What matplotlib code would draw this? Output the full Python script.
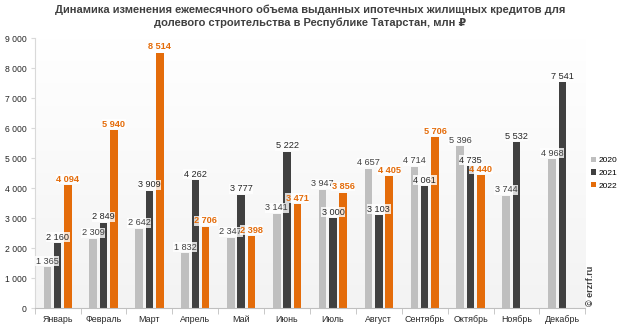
import numpy as np
import matplotlib.pyplot as plt
from matplotlib.colors import LinearSegmentedColormap

months = ["Январь", "Февраль", "Март", "Апрель", "Май", "Июнь", "Июль",
          "Август", "Сентябрь", "Октябрь", "Ноябрь", "Декабрь"]
y2020 = [1365, 2309, 2642, 1832, 2347, 3141, 3947, 4657, 4714, 5396, 3744, 4968]
y2021 = [2160, 2849, 3909, 4262, 3777, 5222, 3000, 3103, 4061, 4735, 5532, 7541]
y2022 = [4094, 5940, 8514, 2706, 2398, 3471, 3856, 4405, 5706, 4440]
years = ["2020", "2021", "2022"]
colors = ["#bfbfbf", "#404040", "#e46c0a"]
label_colors = ["#404040", "#262626", "#e46c0a"]

narrow = ['Liberation Sans Narrow', 'Liberation Sans', 'DejaVu Sans']
plt.rcParams['font.family'] = narrow

fig = plt.figure(figsize=(6.2, 3.25), dpi=100)
ax = fig.add_axes([0.056, 0.052, 0.888, 0.83])

# subtle background gradient
grad = np.linspace(0, 1, 256).reshape(-1, 1)
cmap = LinearSegmentedColormap.from_list("g", ["#f3f3f3", "#ffffff"])
ax.imshow(grad, extent=[-0.5, 11.5, 0, 9000], aspect='auto', cmap=cmap, origin='lower', zorder=0)

x = np.arange(len(months))
w = 0.165
step = 0.225
for i, (vals, c, lc, lab) in enumerate(zip([y2020, y2021, y2022], colors, label_colors, years)):
    xs = x[:len(vals)] + (i - 1) * step
    ax.bar(xs, vals, width=w, color=c, label=lab, zorder=2)
    for xi, v in zip(xs, vals):
        s = f"{v:,}".replace(",", " ")
        ax.text(xi, v + 50, s, ha='center', va='bottom', fontsize=6.6, color=lc,
                fontweight='bold' if i == 2 else 'normal', zorder=3,
                bbox=dict(boxstyle='square,pad=0.05', fc='white', ec='none', alpha=0.8))

ax.set_xlim(-0.5, 11.5)
ax.set_ylim(0, 9000)
ax.set_yticks(range(0, 9001, 1000))
ax.set_yticklabels([f"{v:,}".replace(",", " ") for v in range(0, 9001, 1000)], fontsize=6.2, color="#262626")
ax.set_xticks(x)
ax.set_xticklabels(months, fontsize=6.4, color="#262626")
ax.set_xticks(np.arange(-0.5, 12, 1), minor=True)
ax.tick_params(axis='x', which='major', length=0, pad=5)
ax.tick_params(axis='x', which='minor', length=4, color="#bfbfbf")
ax.tick_params(axis='y', length=3, color="#d9d9d9", pad=3)
for sp in ['top', 'right']:
    ax.spines[sp].set_visible(False)
ax.spines['left'].set_color("#d9d9d9")
ax.spines['bottom'].set_color("#bfbfbf")

ax.legend(loc='center left', bbox_to_anchor=(1.0, 0.5), frameon=False, fontsize=6,
          handlelength=0.6, handleheight=0.6, handletextpad=0.3, labelspacing=0.6,
          borderaxespad=0.3)

fig.text(0.5, 0.985, "Динамика изменения ежемесячного объема выданных ипотечных жилищных кредитов для\nдолевого строительства в Республике Татарстан, млн ₽",
         ha='center', va='top', fontsize=8, fontweight='bold', color="#404040", linespacing=1.3)
fig.text(0.953, 0.06, "© erzrf.ru", rotation=90, ha='center', va='bottom', fontsize=6.5,
         fontweight='bold', color="#404040")

fig.savefig("out.png", dpi=100)
